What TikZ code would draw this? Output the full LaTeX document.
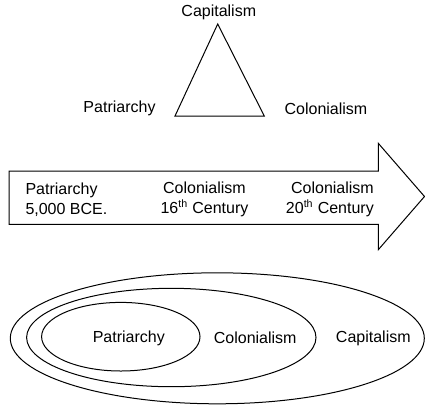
\documentclass[tikz,border=0pt]{standalone}
\usepackage{fontspec}
\setmainfont{Liberation Sans}
\usetikzlibrary{positioning}

\begin{document}
\begin{tikzpicture}[x=0.75pt,y=-0.75pt,line width=0.75pt,
    lbl/.style={font=\fontsize{12}{15}\selectfont,inner sep=0pt}]

    \useasboundingbox (0,0) rectangle (425,405);

    % triangle
    \coordinate (top) at (217.7,24);
    \coordinate (bl) at (175,116);
    \coordinate (br) at (264.3,116);
    \draw (top) -- (bl) -- (br) -- cycle;
    \node[lbl] (cap) at (218.8,12.5) {Capitalism};
    \node[lbl] (pat) at (119.5,108.5) {Patriarchy};
    \node[lbl] (col) at (326,108.5) {Colonialism};

    % timeline arrow
    \draw (9,171) -- (378.3,171) -- (378.3,143.3) -- (424.5,196.5)
    -- (378.3,249.7) -- (378.3,224.3) -- (9,224.3) -- cycle;
    \node[lbl,anchor=west,align=left] (t1) at (25,199.3)
    {Patriarchy\\5,000 BCE.};
    \node[lbl,align=center] (t2) at (204.5,199.3)
    {Colonialism\\16\textsuperscript{th} Century};
    \node[lbl,anchor=east,align=right] (t3) at (374.3,199.3)
    {Colonialism\\20\textsuperscript{th} Century};

    % nested ellipses
    \draw (217.3,338.3) ellipse (207 and 65.5);
    \draw (171.3,337.5) ellipse (144.7 and 49.2);
    \draw (120.8,336.7) ellipse (79.2 and 34.3);
    \node[lbl] (epat) at (128.8,338) {Patriarchy};
    \node[lbl] (ecol) at (255.2,338) {Colonialism};
    \node[lbl] (ecap) at (373.3,338) {Capitalism};
\end{tikzpicture}
\end{document}
